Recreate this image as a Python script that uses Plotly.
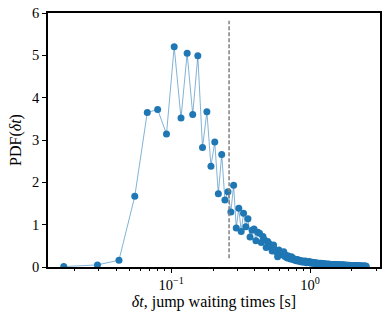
import plotly.graph_objects as go

# bin centres of the waiting-time histogram [s]
wait_times = [
    0.0168, 0.0294, 0.0420, 0.0546, 0.0672, 0.0798, 0.0924, 0.1050, 0.1176, 0.1302,
    0.1428, 0.1554, 0.1680, 0.1806, 0.1932, 0.2058, 0.2184, 0.2310, 0.2436, 0.2562,
    0.2688, 0.2814, 0.2940, 0.3066, 0.3192, 0.3318, 0.3444, 0.3570, 0.3696, 0.3822,
    0.3948, 0.4074, 0.4200, 0.4326, 0.4452, 0.4578, 0.4704, 0.4830, 0.4956, 0.5082,
    0.5208, 0.5334, 0.5460, 0.5586, 0.5712, 0.5838, 0.5964, 0.6090, 0.6216, 0.6342,
    0.6468, 0.6594, 0.6720, 0.6846, 0.6972, 0.7098, 0.7224, 0.7350, 0.7476, 0.7602,
    0.7728, 0.7854, 0.7980, 0.8106, 0.8232, 0.8358, 0.8484, 0.8610, 0.8736, 0.8862,
    0.8988, 0.9114, 0.9240, 0.9366, 0.9492, 0.9618, 0.9744, 0.9870, 0.9996, 1.0122,
    1.0248, 1.0374, 1.0500, 1.0626, 1.0752, 1.0878, 1.1004, 1.1130, 1.1256, 1.1382,
    1.1508, 1.1634, 1.1760, 1.1886, 1.2012, 1.2138, 1.2264, 1.2390, 1.2516, 1.2642,
    1.2768, 1.2894, 1.3020, 1.3146, 1.3272, 1.3398, 1.3524, 1.3650, 1.3776, 1.3902,
    1.4028, 1.4154, 1.4280, 1.4406, 1.4532, 1.4658, 1.4784, 1.4910, 1.5036, 1.5162,
    1.5288, 1.5414, 1.5540, 1.5666, 1.5792, 1.5918, 1.6044, 1.6170, 1.6296, 1.6422,
    1.6548, 1.6674, 1.6800, 1.6926, 1.7052, 1.7178, 1.7304, 1.7430, 1.7556, 1.7682,
    1.7808, 1.7934, 1.8060, 1.8186, 1.8312, 1.8438, 1.8564, 1.8690, 1.8816, 1.8942,
    1.9068, 1.9194, 1.9320, 1.9446, 1.9572, 1.9698, 1.9824, 1.9950, 2.0076, 2.0202,
    2.0328, 2.0454, 2.0580, 2.0706, 2.0832, 2.0958, 2.1084, 2.1210, 2.1336, 2.1462,
    2.1588, 2.1714, 2.1840, 2.1966, 2.2092, 2.2218, 2.2344, 2.2470, 2.2596, 2.2722,
    2.2848, 2.2974, 2.3100, 2.3226, 2.3352, 2.3478, 2.3604, 2.3730, 2.3856, 2.3982,
    2.4108, 2.4234, 2.4360, 2.4486, 2.4612, 2.4738, 2.4864, 2.4990, 2.5116, 2.5242,
    2.5368,
]

pdf = [
    0.01, 0.05, 0.16, 1.67, 3.65, 3.72, 3.14, 5.20, 3.52, 5.05,
    3.60, 4.99, 2.82, 3.67, 2.38, 2.95, 1.73, 2.66, 1.58, 1.78,
    1.30, 1.93, 0.92, 1.39, 0.84, 1.27, 0.95, 1.14, 0.71, 0.87,
    0.90, 0.62, 0.82, 0.80, 0.58, 0.72, 0.64, 0.46, 0.60, 0.55,
    0.48, 0.38, 0.52, 0.41, 0.36, 0.24, 0.40, 0.33, 0.29, 0.34,
    0.36, 0.25, 0.28, 0.21, 0.26, 0.22, 0.19, 0.24, 0.21, 0.17,
    0.19, 0.16, 0.15, 0.18, 0.14, 0.16, 0.13, 0.15, 0.12, 0.14,
    0.13, 0.11, 0.14, 0.12, 0.10, 0.12, 0.11, 0.13, 0.10, 0.11,
    0.09, 0.11, 0.10, 0.09, 0.10, 0.08, 0.10, 0.09, 0.08, 0.09,
    0.08, 0.09, 0.07, 0.08, 0.09, 0.07, 0.08, 0.07, 0.08, 0.06,
    0.07, 0.06, 0.07, 0.06, 0.065, 0.06, 0.07, 0.055, 0.06, 0.065,
    0.06, 0.055, 0.06, 0.05, 0.06, 0.055, 0.05, 0.06, 0.05, 0.055,
    0.05, 0.055, 0.045, 0.05, 0.05, 0.045, 0.05, 0.04, 0.05, 0.045,
    0.045, 0.04, 0.05, 0.04, 0.045, 0.04, 0.045, 0.04, 0.035, 0.045,
    0.04, 0.035, 0.04, 0.04, 0.035, 0.04, 0.03, 0.04, 0.035, 0.035,
    0.03, 0.04, 0.03, 0.035, 0.03, 0.035, 0.03, 0.03, 0.035, 0.03,
    0.03, 0.025, 0.03, 0.03, 0.025, 0.03, 0.025, 0.03, 0.025, 0.025,
    0.03, 0.02, 0.025, 0.025, 0.02, 0.025, 0.025, 0.02, 0.025, 0.02,
    0.02, 0.025, 0.02, 0.02, 0.025, 0.02, 0.02, 0.015, 0.02, 0.02,
    0.015, 0.02, 0.02, 0.015, 0.02, 0.015, 0.015, 0.02, 0.015, 0.015,
    0.015,
]

threshold = 0.261  # dashed vertical marker [s]

blue = "#1f77b4"
font = "Liberation Serif"

fig = go.Figure()
fig.add_trace(go.Scatter(x=wait_times, y=pdf, mode="lines",
                         line=dict(color="rgba(31,119,180,0.7)", width=0.8),
                         hoverinfo="skip", showlegend=False))
fig.add_trace(go.Scatter(x=wait_times, y=pdf, mode="markers",
                         marker=dict(color=blue, size=7, line=dict(width=0)),
                         showlegend=False))

fig.add_shape(type="line", xref="x", yref="paper", x0=threshold, x1=threshold,
              y0=0.034, y1=0.969, line=dict(color="#808080", width=1.5, dash="4px,2px"))

minor_vals = [0.02, 0.03, 0.04, 0.05, 0.06, 0.07, 0.08, 0.09,
              0.2, 0.3, 0.4, 0.5, 0.6, 0.7, 0.8, 0.9, 2, 3]

axis_common = dict(ticks="outside", ticklen=4, tickwidth=1, tickcolor="black",
                   tickfont=dict(family=font, size=14.5, color="black"),
                   showline=True, linecolor="black", linewidth=1.5, mirror=True,
                   showgrid=False, zeroline=False, automargin=False)

fig.update_layout(
    template="none",
    width=388, height=322,
    margin=dict(l=48, r=8, t=13, b=55),
    paper_bgcolor="white", plot_bgcolor="white",
    font=dict(family=font, size=14, color="black"),
    xaxis=dict(type="log", range=[-1.888, 0.504],
               tickvals=[0.1, 1], ticktext=["10<sup>−1</sup>", "10<sup>0</sup>"],
               minor=dict(tickvals=minor_vals, ticks="outside", ticklen=2,
                          tickwidth=0.8, tickcolor="black", showgrid=False),
               title=dict(text="<i>δt</i>, jump waiting times [s]", standoff=3,
                          font=dict(family=font, size=16, color="black")),
               **axis_common),
    yaxis=dict(range=[0, 6], tickvals=[0, 1, 2, 3, 4, 5, 6],
               title=dict(text="PDF(<i>δt</i>)", standoff=6,
                          font=dict(family=font, size=16, color="black")),
               **axis_common),
)

# drop the browser's default page margin so the figure sits at the window corner
fig.write_html("out.html", config={"displayModeBar": False},
               post_script="document.body.style.margin='0';")
